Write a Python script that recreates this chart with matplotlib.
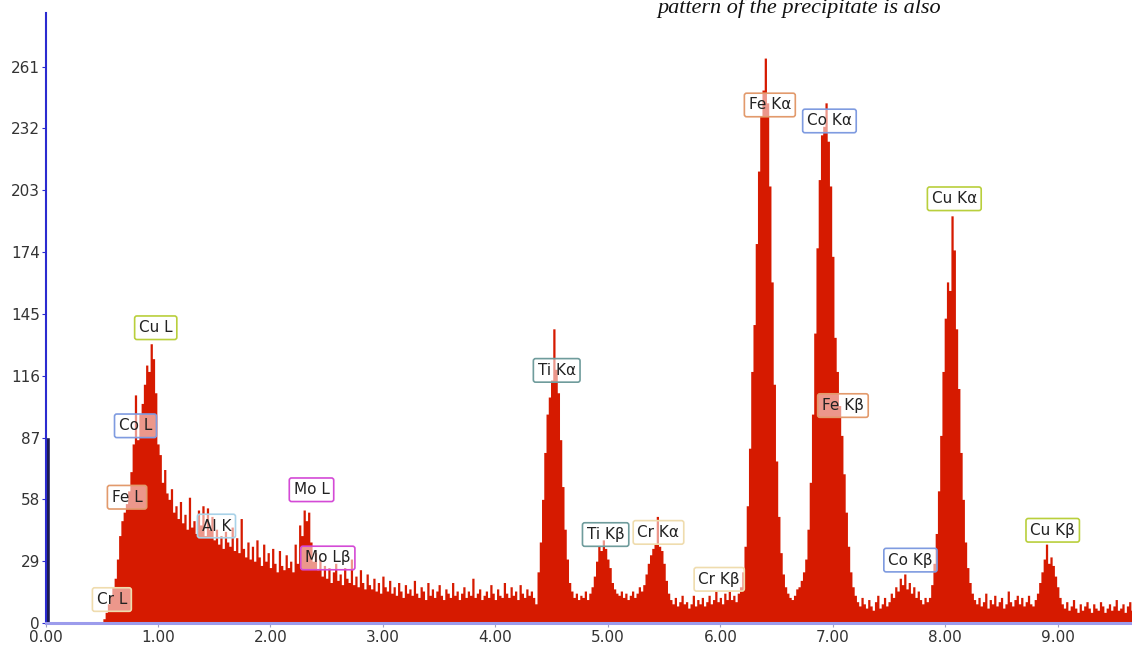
import numpy as np
import matplotlib
matplotlib.use("Agg")
import matplotlib.pyplot as plt
from matplotlib.ticker import FormatStrFormatter

# EDS spectrum, counts per 0.02 keV channel, starting at 0.50 keV
E_START = 0.50
E_STEP = 0.02
counts = [
    0, 2, 5, 9, 13, 17, 21, 30, 41, 48,            # 0.50
    52, 56, 62, 71, 84, 107, 86, 98, 103, 112,     # 0.70
    121, 118, 131, 124, 108, 84, 79, 66, 72, 61,   # 0.90
    58, 63, 52, 55, 49, 57, 47, 51, 44, 59,        # 1.10
    45, 48, 42, 53, 46, 55, 41, 54, 44, 50,        # 1.30
    39, 44, 37, 41, 35, 43, 38, 36, 45, 34,        # 1.50
    40, 33, 49, 35, 31, 38, 30, 36, 29, 39,        # 1.70
    31, 27, 37, 29, 33, 26, 35, 28, 24, 34,        # 1.90
    27, 25, 32, 26, 29, 24, 37, 28, 46, 41,        # 2.10
    53, 48, 52, 38, 29, 33, 25, 30, 22, 27,        # 2.30
    21, 26, 19, 24, 28, 20, 23, 18, 26, 21,        # 2.50
    19, 30, 18, 22, 17, 25, 19, 16, 23, 18,        # 2.70
    16, 21, 15, 19, 14, 22, 17, 15, 20, 14,        # 2.90
    17, 13, 19, 15, 12, 18, 14, 16, 13, 20,        # 3.10
    14, 12, 17, 15, 11, 19, 13, 16, 12, 15,        # 3.30
    18, 13, 11, 16, 14, 12, 19, 13, 15, 11,        # 3.50
    14, 17, 12, 15, 13, 21, 12, 14, 16, 11,        # 3.70
    13, 15, 12, 18, 14, 11, 16, 13, 12, 19,        # 3.90
    14, 12, 17, 13, 15, 11, 18, 14, 12, 16,        # 4.10
    13, 15, 12, 9, 24, 38, 58, 80, 98, 106,        # 4.30
    114, 138, 119, 108, 86, 64, 44, 30, 19, 15,    # 4.50
    12, 14, 11, 13, 12, 15, 11, 14, 17, 22,        # 4.70
    29, 36, 34, 39, 35, 30, 26, 19, 16, 14,        # 4.90
    13, 15, 12, 14, 11, 13, 15, 12, 14, 17,        # 5.10
    15, 18, 23, 28, 32, 35, 37, 50, 36, 34,        # 5.30
    28, 20, 14, 11, 9, 12, 8, 10, 13, 9,           # 5.50
    10, 7, 9, 13, 8, 11, 9, 12, 8, 10,             # 5.70
    13, 9, 11, 15, 10, 12, 9, 14, 11, 15,          # 5.90
    11, 13, 10, 14, 17, 24, 36, 55, 82, 118,       # 6.10
    140, 178, 212, 238, 250, 265, 244, 205, 160, 112,  # 6.30
    76, 50, 33, 23, 17, 14, 12, 11, 13, 16,        # 6.50
    17, 20, 24, 30, 44, 66, 98, 136, 176, 208,     # 6.70
    229, 233, 244, 226, 205, 172, 134, 118, 102, 88,  # 6.90
    70, 52, 36, 24, 17, 13, 10, 8, 12, 9,          # 7.10
    7, 11, 8, 6, 10, 13, 7, 9, 12, 8,              # 7.30
    10, 14, 12, 17, 15, 21, 18, 23, 16, 19,        # 7.50
    14, 17, 12, 15, 11, 9, 12, 10, 12, 18,         # 7.70
    28, 42, 62, 88, 118, 143, 160, 156, 191, 175,  # 7.90
    138, 110, 80, 58, 38, 26, 19, 14, 11, 9,       # 8.10
    12, 8, 10, 14, 7, 11, 9, 13, 8, 10,            # 8.30
    12, 7, 9, 15, 10, 8, 11, 13, 9, 12,            # 8.50
    8, 10, 13, 9, 8, 11, 14, 19, 24, 30,           # 8.70
    37, 28, 31, 27, 22, 17, 12, 9, 7, 10,          # 8.90
    6, 8, 11, 7, 5, 9, 6, 8, 10, 7,                # 9.10
    5, 9, 7, 6, 10, 8, 5, 7, 9, 6,                 # 9.30
    8, 11, 6, 7, 9, 5, 8, 10, 6, 7,                # 9.50
]

# peak labels: text, energy (keV), count height of the label, box colour
label_names = ["Cr L", "Fe L", "Co L", "Cu L", "Al K", "Mo L", "Mo L\u03b2",
               "Ti K\u03b1", "Ti K\u03b2", "Cr K\u03b1", "Cr K\u03b2",
               "Fe K\u03b1", "Co K\u03b1", "Fe K\u03b2", "Co K\u03b2",
               "Cu K\u03b1", "Cu K\u03b2"]
label_x = [0.59, 0.725, 0.80, 0.98, 1.52, 2.365, 2.51,
           4.545, 4.98, 5.45, 5.99,
           6.44, 6.97, 7.09, 7.69,
           8.08, 8.955]
label_y = [11, 59, 92.5, 138.5, 45.5, 62.5, 30.5,
           118.5, 41.5, 42.5, 20.5,
           243, 235.5, 102, 29.5,
           199, 43.5]
label_colors = ["#efdcae", "#e29a6c", "#7f9be0", "#b9cf3c", "#a9d2e8", "#d44ad6", "#d44ad6",
                "#6f9c9c", "#6f9c9c", "#efdcae", "#efdcae",
                "#e29a6c", "#7f9be0", "#e29a6c", "#7f9be0",
                "#b9cf3c", "#b9cf3c"]

yticks = [0, 29, 58, 87, 116, 145, 174, 203, 232, 261]
xticks = [0, 1, 2, 3, 4, 5, 6, 7, 8, 9]

counts = np.array(counts, dtype=float)
energy = E_START + E_STEP * np.arange(len(counts))

fig = plt.figure(figsize=(11.32, 6.46), dpi=100)
ax = fig.add_axes([0.0402, 0.0356, 0.9598, 0.9438])

ax.fill_between(energy, counts, step="mid", color="#d61a00", linewidth=0)

for name, x, y, c in zip(label_names, label_x, label_y, label_colors):
    ax.text(x, y, name, ha="center", va="center", fontsize=11, color="#222222",
            bbox=dict(boxstyle="round,pad=0.28,rounding_size=0.15",
                      fc=(1, 1, 1, 0.55), ec=c, lw=1.2))

# dark marker at the left edge
ax.axvline(0.018, ymin=0, ymax=86 / 286, color="#1c1c50", lw=2.6)

ax.set_xlim(0, 9.66)
ax.set_ylim(0, 286)
ax.set_xticks(xticks)
ax.set_yticks(yticks)
ax.xaxis.set_major_formatter(FormatStrFormatter("%.2f"))

for s in ["top", "right"]:
    ax.spines[s].set_visible(False)
ax.spines["left"].set_color("#2b2bd0")
ax.spines["left"].set_linewidth(1.5)
ax.spines["bottom"].set_color("#9c9cec")
ax.spines["bottom"].set_linewidth(2.2)

ax.tick_params(axis="y", length=3, width=0.8, color="#2b2bd0", pad=1,
               labelsize=11, labelcolor="#333333")
ax.tick_params(axis="x", length=3, width=0.8, color="#a0a0c0", pad=2,
               labelsize=11, labelcolor="#333333")

# page text at the top of the screenshot
fig.text(657 / 1132, 1 - 13 / 646, "pattern of the precipitate is also",
         fontsize=16, family="Liberation Serif", style="italic",
         color="#111111", va="baseline", ha="left")

fig.savefig("out.png", dpi=100)
